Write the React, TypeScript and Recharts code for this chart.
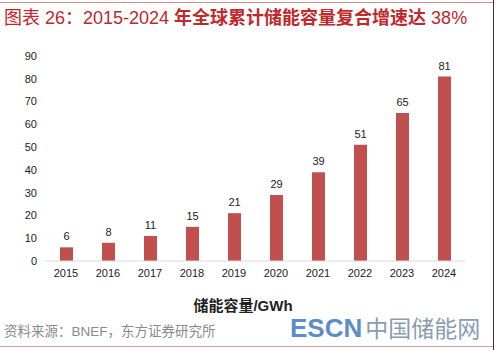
import React from 'react'
import { BarChart, Bar, XAxis, YAxis, LabelList } from 'recharts'

const years = ['2015', '2016', '2017', '2018', '2019', '2020', '2021', '2022', '2023', '2024']
const capacity = [6, 8, 11, 15, 21, 29, 39, 51, 65, 81]
const yTicks = [0, 10, 20, 30, 40, 50, 60, 70, 80, 90]

const data = years.map((y, i) => ({ year: y, value: capacity[i] }))

const latin = '"Liberation Sans", Arial, "Noto Sans CJK SC", sans-serif'
const cjk = '"Liberation Sans", "Noto Sans CJK SC", sans-serif'

export default function App() {
  return (
    <div style={{ position: 'absolute', left: 0, top: 0, width: 496, height: 350, background: '#fff', overflow: 'hidden' }}>
      {/* top rule */}
      <div style={{ position: 'absolute', left: 0, top: 2, width: 493, height: 1, background: '#d98c8c' }} />
      <div
        style={{
          position: 'absolute',
          left: 4,
          top: 7,
          fontFamily: cjk,
          fontSize: 18,
          color: '#c0282c',
          whiteSpace: 'nowrap',
          lineHeight: '22px',
        }}
      >
        图表 26：2015-2024 <b>年全球累计储能容量复合增速达</b> 38%
      </div>

      <div style={{ position: 'absolute', left: 0, top: 0 }}>
        <BarChart width={496} height={290} data={data} margin={{ top: 56, right: 31, bottom: 9, left: 0 }}>
          <XAxis
            dataKey="year"
            height={20}
            tickLine={false}
            axisLine={{ stroke: '#d9d9d9' }}
            tick={{ fontSize: 11, fill: '#222', fontFamily: latin }}
            interval={0}
          />
          <YAxis
            width={45}
            domain={[0, 90]}
            ticks={yTicks}
            tickLine={false}
            axisLine={false}
            tick={{ fontSize: 11, fill: '#222', fontFamily: latin }}
            interval={0}
          />
          <Bar dataKey="value" fill="#c0504d" barSize={13} isAnimationActive={false}>
            <LabelList dataKey="value" position="top" offset={7} style={{ fontSize: 11, fill: '#222', fontFamily: latin }} />
          </Bar>
        </BarChart>
      </div>

      <div
        style={{
          position: 'absolute',
          left: 0,
          width: 486,
          top: 294,
          textAlign: 'center',
          fontFamily: cjk,
          fontWeight: 'bold',
          fontSize: 15,
          color: '#222',
        }}
      >
        储能容量/GWh
      </div>

      <div
        style={{
          position: 'absolute',
          left: 4,
          top: 320,
          fontFamily: cjk,
          fontSize: 13.5,
          color: '#8a8a8a',
          whiteSpace: 'nowrap',
        }}
      >
        资料来源：BNEF，东方证券研究所
      </div>

      <div style={{ position: 'absolute', left: 290, top: 312, whiteSpace: 'nowrap', lineHeight: '32px' }}>
        <span style={{ fontFamily: latin, fontWeight: 'bold', fontSize: 26, color: '#5b8ec6' }}>ESCN</span>
        <span style={{ fontFamily: cjk, fontSize: 23, color: '#8b9bb0', marginLeft: 3 }}>中国储能网</span>
      </div>

      {/* bottom rule */}
      <div style={{ position: 'absolute', left: 0, top: 346, width: 493, height: 1, background: '#d9a0a0' }} />
      {/* right edge */}
      <div style={{ position: 'absolute', left: 493, top: 0, width: 1, height: 350, background: '#333' }} />
    </div>
  )
}
